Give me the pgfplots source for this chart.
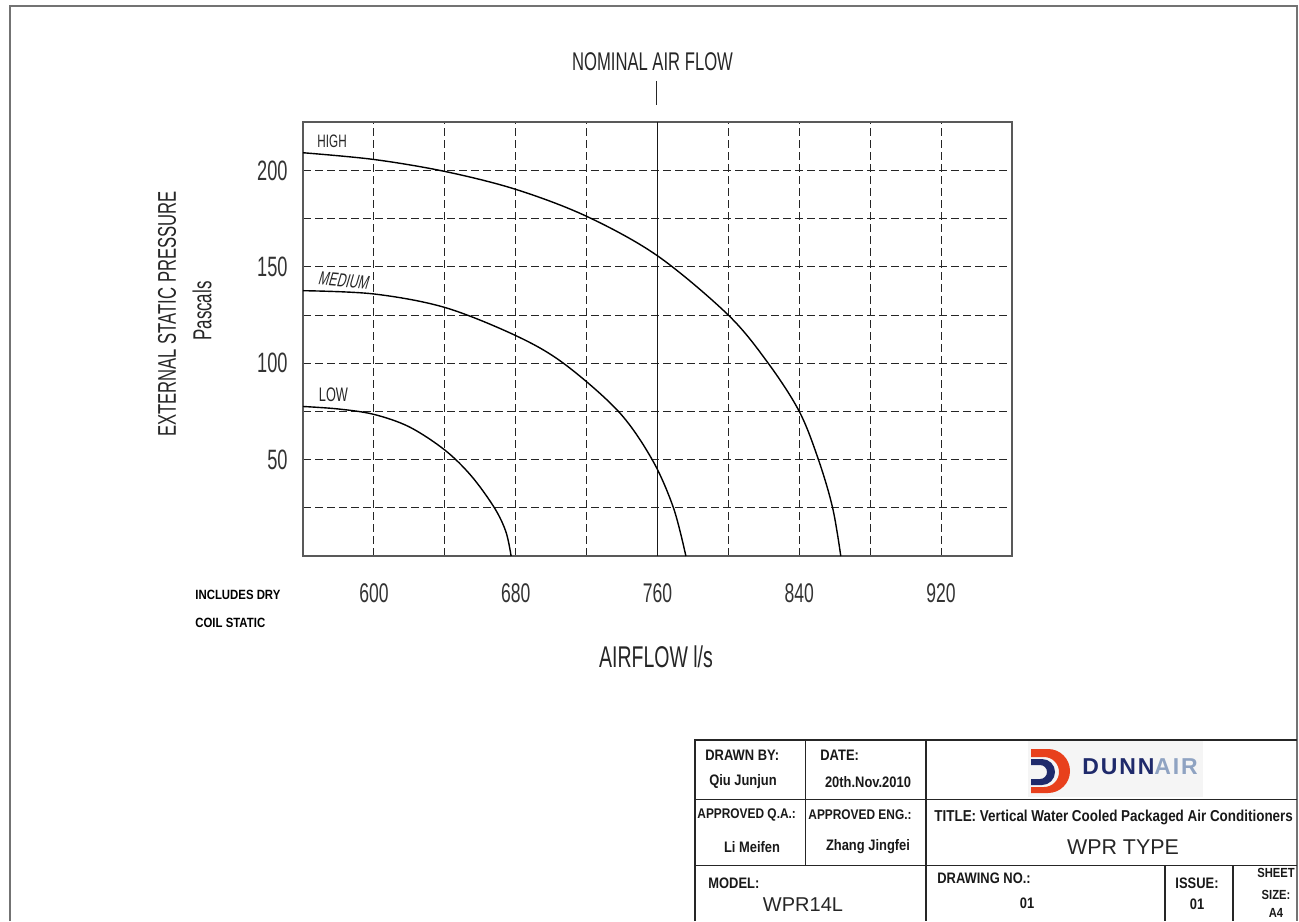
\documentclass[border=0pt]{standalone}
\usepackage{pgfplots}
\usepackage{pgfplotstable}
\pgfplotsset{compat=1.18}
\usepackage{fontspec}
\setmainfont{Liberation Sans}[FakeStretch=0.65]
\newfontfamily\slfont{Liberation Sans}[FakeStretch=0.65,FakeSlant=0.2]
\newfontfamily\tbfont{Liberation Sans}[FakeStretch=0.85]
\newfontfamily\widefont{Liberation Sans}
\newfontfamily\logofont{Liberation Sans}[LetterSpace=8]
\definecolor{logored}{HTML}{E8401C}
\definecolor{logonavy}{HTML}{1F2A6B}
\definecolor{logoair}{HTML}{8FA3C2}
\newcommand{\fs}[1]{\fontsize{#1}{#1}\selectfont}
\pgfplotstableread{
x y
560 209.3
600 205.8
640 199.6
680 190.3
720 176.3
760 155.8
800 125
822.5 100
840 75
850.8 50
858.8 25
863.4 0
}\high
\pgfplotstableread{
x y
560 137.7
600 136
640 129
680 114.4
707 100
738 75
757 50
769 25
776 0
}\medium
\pgfplotstableread{
x y
560 77.6
580 76.3
600 73.5
620 67
640 55
655 41.5
668 25
674.5 12.5
677.4 0
}\low
\begin{document}
\begin{tikzpicture}
\useasboundingbox (0,0) rectangle (649.5pt,460.5pt);
\begin{axis}[
  at={(151.5pt,182.5pt)}, anchor=south west,
  scale only axis, width=354.5pt, height=216.75pt,
  xmin=560, xmax=960, ymin=0, ymax=225,
  xtick={600,680,760,840,920}, minor xtick={640,720,800,880},
  ytick={50,100,150,200}, minor ytick={25,75,125,175},
  grid=both,
  major grid style={black!85, dash pattern=on 4pt off 2pt, line width=0.5pt},
  minor grid style={black!85, dash pattern=on 4pt off 2pt, line width=0.5pt},
  axis line style={black!65, line width=1pt},
  major tick length=0pt, minor tick length=0pt,
  /pgf/number format/assume math mode=true,
  /pgf/number format/set thousands separator={},
  xticklabel style={font=\fs{13.5}, text=black!80, anchor=center, yshift=-18.5pt},
  yticklabel style={font=\fs{14}, text=black!80, anchor=east, inner sep=0pt, xshift=-7.5pt},
  clip=false,
]
\addplot[black!90, line width=0.8pt] coordinates {(760,0)(760,225)};
\addplot[black, line width=0.7pt, smooth, tension=0.55] table {\high};
\addplot[black, line width=0.7pt, smooth, tension=0.55] table {\medium};
\addplot[black, line width=0.7pt, smooth, tension=0.55] table {\low};
\node[font=\fs{9}, text=black!85] at (axis cs:576.4,215.3) {HIGH};
\node[font=\slfont\fs{9.5}, text=black!85, rotate=-5] at (axis cs:582.6,142.9) {MEDIUM};
\node[font=\fs{9.8}, text=black!85] at (axis cs:577.2,83.9) {LOW};
\end{axis}
\begin{scope}[x=0.5pt,y=-0.5pt,shift={(0,460.5pt)}]
% outer frame
\draw[black!55, line width=1pt] (9.5,921) -- (9.5,6) -- (1297,6) -- (1297,921);
% chart texts
\node[font=\fs{12.8}, text=black!85] at (652.5,62) {NOMINAL AIR FLOW};
\draw[black!85, line width=0.75pt] (656.7,81) -- (656.7,105);
\node[font=\fs{15}, text=black!85] at (656,657) {AIRFLOW l/s};
\node[font=\fs{12.8}, text=black!85, rotate=90] at (167,314) {EXTERNAL STATIC PRESSURE};
\node[font=\fs{13}, text=black!85, rotate=90] at (202,311) {Pascals};
\node[font=\tbfont\bfseries\fs{6.7}, anchor=west, inner sep=0pt] at (195,595) {INCLUDES DRY};
\node[font=\tbfont\bfseries\fs{6.7}, anchor=west, inner sep=0pt] at (195,623) {COIL STATIC};
% title block
\fill[black!4] (1028,741) rectangle (1203,797);
\begin{scope}[line width=0.9pt, black!85]
\draw (695,921) -- (695,740) -- (1297,740);
\draw (695,799.5) -- (1297,799.5);
\draw (695,865.5) -- (1297,865.5);
\draw (805.5,740) -- (805.5,865.5);
\draw (926,740) -- (926,921);
\draw (1165,865.5) -- (1165,921);
\draw (1233,865.5) -- (1233,921);
\end{scope}
% logo
\fill[logored] (1031,749) -- (1048,749) arc[start angle=-90, end angle=90, radius=22] -- (1031,793) -- (1031,787) -- (1044,787) arc[start angle=90, end angle=-90, radius=15] -- (1031,757) -- cycle;
\fill[logonavy] (1031,759) -- (1042,759) arc[start angle=-90, end angle=90, radius=13] -- (1031,785) -- (1031,779) -- (1040,779) arc[start angle=90, end angle=-90, radius=7] -- (1031,765) -- cycle;
\node[font=\logofont\bfseries\fs{11.5}, anchor=west, inner sep=0pt] at (1082,767) {\textcolor{logonavy}{DUNN}\textcolor{logoair}{AIR}};
% title block texts
\begin{scope}[font=\tbfont\bfseries\fs{7.6}, text=black!90]
\node[anchor=west, inner sep=0pt] at (705,755) {DRAWN BY:};
\node[inner sep=0pt] at (743,782) {Qiu Junjun};
\node[anchor=west, inner sep=0pt] at (820,755) {DATE:};
\node[inner sep=0pt] at (868,782) {20th.Nov.2010};
\node[anchor=west, inner sep=0pt, font=\tbfont\bfseries\fs{7}] at (697,815) {APPROVED Q.A.:};
\node[anchor=west, inner sep=0pt, font=\tbfont\bfseries\fs{7}] at (808,815) {APPROVED ENG.:};
\node[inner sep=0pt] at (752,847) {Li Meifen};
\node[inner sep=0pt] at (868,847) {Zhang Jingfei};
\node[anchor=west, inner sep=0pt] at (708,883) {MODEL:};
\node[anchor=west, inner sep=0pt, font=\tbfont\bfseries\fs{7.9}] at (934,817) {TITLE: Vertical Water Cooled Packaged Air Conditioners};
\node[anchor=west, inner sep=0pt] at (937,878) {DRAWING NO.:};
\node[inner sep=0pt] at (1027,903) {01};
\node[inner sep=0pt] at (1197,883) {ISSUE:};
\node[inner sep=0pt] at (1197,904) {01};
\node[inner sep=0pt, font=\tbfont\bfseries\fs{6.6}] at (1276,873) {SHEET};
\node[inner sep=0pt, font=\tbfont\bfseries\fs{6.6}] at (1276,895) {SIZE:};
\node[inner sep=0pt, font=\tbfont\bfseries\fs{6.6}] at (1276,913) {A4};
\end{scope}
\node[font=\widefont\fs{10}, text=black!85, inner sep=0pt] at (803,905) {WPR14L};
\node[font=\widefont\fs{10.7}, text=black!85, inner sep=0pt] at (1123,847) {WPR TYPE};
\end{scope}
\end{tikzpicture}
\end{document}
